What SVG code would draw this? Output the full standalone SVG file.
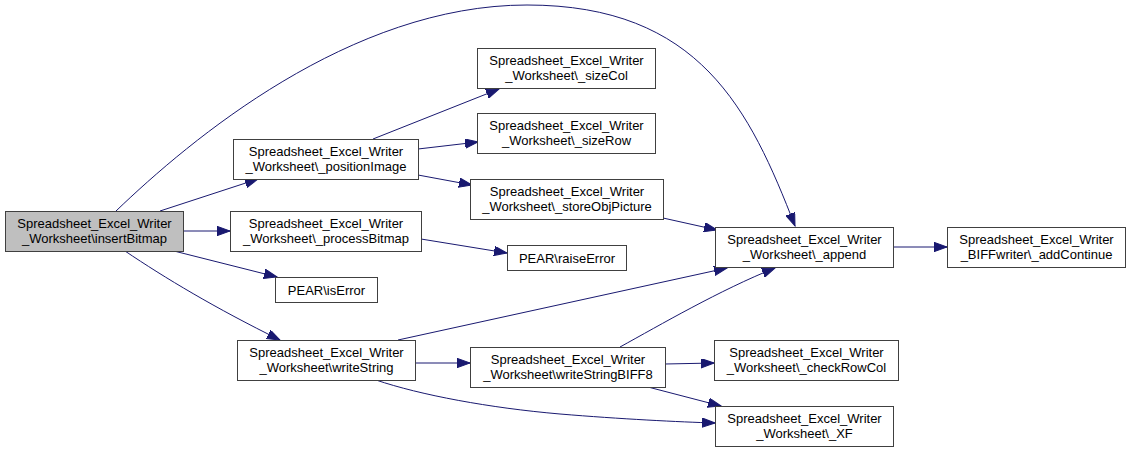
<svg xmlns="http://www.w3.org/2000/svg" width="1128" height="452" viewBox="0 0 1128 452">
<style>
.node rect{fill:#ffffff;stroke:#404040;stroke-width:1}
.node.main rect{fill:#bfbfbf}
.node text{font-family:"Liberation Sans",Arial,sans-serif;font-size:13px;fill:#000000;text-anchor:middle}
.edges path{fill:none;stroke:#191970;stroke-width:1;marker-end:url(#arrow)}
</style>
<defs>
<marker id="arrow" markerUnits="userSpaceOnUse" markerWidth="14" markerHeight="10" refX="13" refY="4.7" orient="auto">
<path d="M0,0 L13,4.7 L0,9.4 z" fill="#191970" stroke="#191970" stroke-width="1"/>
</marker>
</defs>
<rect width="1128" height="452" fill="#ffffff"/>
<g class="edges" id="edges">
<path d="M116,211 C190,140 350,5 527,5 C700,5 750,110 795,226"/>
<path d="M160,211 L258,179"/>
<path d="M183,231 L230,231"/>
<path d="M174,251 L277,277"/>
<path d="M125,251 C165,278 215,308 280,340"/>
<path d="M373,139 L499,89"/>
<path d="M418,149 L478,142"/>
<path d="M418,175 L472,185"/>
<path d="M421,239 L507,253"/>
<path d="M663,218 L717,230"/>
<path d="M398,340 L727,268"/>
<path d="M415,363 L470,363"/>
<path d="M376,380 C420,395 490,408 560,414 C620,419 680,422 715,423"/>
<path d="M620,347 C660,325 720,290 775,268"/>
<path d="M665,364 L714,363"/>
<path d="M648,387 L721,406"/>
<path d="M893,247 L947,247"/>
</g>
<g class="node main" id="insertBitmap">
<rect x="5.5" y="211.5" width="178" height="40"/>
<text x="94.5" y="227.5">Spreadsheet_Excel_Writer</text>
<text x="94.5" y="242.5">_Worksheet\insertBitmap</text>
</g>
<g class="node" id="positionImage">
<rect x="233.5" y="139.5" width="185" height="40"/>
<text x="326" y="155.5">Spreadsheet_Excel_Writer</text>
<text x="326" y="170.5">_Worksheet\_positionImage</text>
</g>
<g class="node" id="processBitmap">
<rect x="230.5" y="211.5" width="191" height="40"/>
<text x="326" y="227.5">Spreadsheet_Excel_Writer</text>
<text x="326" y="242.5">_Worksheet\_processBitmap</text>
</g>
<g class="node" id="isError">
<rect x="275.5" y="277.5" width="102" height="25"/>
<text x="326.5" y="294.5">PEAR\isError</text>
</g>
<g class="node" id="writeString">
<rect x="237.5" y="340.5" width="178" height="40"/>
<text x="326.5" y="356.5">Spreadsheet_Excel_Writer</text>
<text x="326.5" y="371.5">_Worksheet\writeString</text>
</g>
<g class="node" id="sizeCol">
<rect x="477.5" y="48.5" width="178" height="40"/>
<text x="566.5" y="64.5">Spreadsheet_Excel_Writer</text>
<text x="566.5" y="79.5">_Worksheet\_sizeCol</text>
</g>
<g class="node" id="sizeRow">
<rect x="477.5" y="113.5" width="178" height="40"/>
<text x="566.5" y="129.5">Spreadsheet_Excel_Writer</text>
<text x="566.5" y="144.5">_Worksheet\_sizeRow</text>
</g>
<g class="node" id="storeObjPicture">
<rect x="470.5" y="179.5" width="193" height="40"/>
<text x="567" y="195.5">Spreadsheet_Excel_Writer</text>
<text x="567" y="210.5">_Worksheet\_storeObjPicture</text>
</g>
<g class="node" id="raiseError">
<rect x="507.5" y="245.5" width="119" height="25"/>
<text x="567" y="262.5">PEAR\raiseError</text>
</g>
<g class="node" id="writeStringBIFF8">
<rect x="470.5" y="347.5" width="195" height="40"/>
<text x="568" y="363.5">Spreadsheet_Excel_Writer</text>
<text x="568" y="378.5">_Worksheet\writeStringBIFF8</text>
</g>
<g class="node" id="append">
<rect x="715.5" y="227.5" width="178" height="40"/>
<text x="804.5" y="243.5">Spreadsheet_Excel_Writer</text>
<text x="804.5" y="258.5">_Worksheet\_append</text>
</g>
<g class="node" id="checkRowCol">
<rect x="714.5" y="340.5" width="184" height="40"/>
<text x="806.5" y="356.5">Spreadsheet_Excel_Writer</text>
<text x="806.5" y="371.5">_Worksheet\_checkRowCol</text>
</g>
<g class="node" id="XF">
<rect x="715.5" y="406.5" width="178" height="40"/>
<text x="804.5" y="422.5">Spreadsheet_Excel_Writer</text>
<text x="804.5" y="437.5">_Worksheet\_XF</text>
</g>
<g class="node" id="addContinue">
<rect x="947.5" y="227.5" width="178" height="40"/>
<text x="1036.5" y="243.5">Spreadsheet_Excel_Writer</text>
<text x="1036.5" y="258.5">_BIFFwriter\_addContinue</text>
</g>
</svg>
